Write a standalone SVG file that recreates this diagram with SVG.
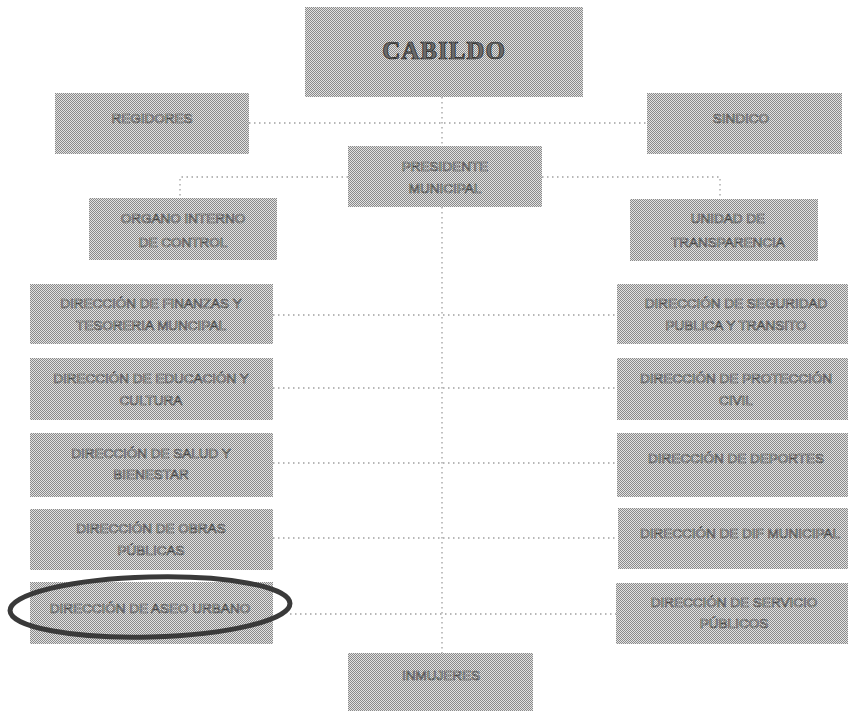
<svg xmlns="http://www.w3.org/2000/svg" width="850" height="712" viewBox="0 0 850 712">
<defs>
<pattern id="chk" x="0" y="0" width="2" height="2" patternUnits="userSpaceOnUse">
<rect x="0" y="0" width="2" height="2" fill="#e2e2e2"/>
<rect x="0" y="0" width="1" height="1" fill="#8a8a8a"/>
<rect x="1" y="1" width="1" height="1" fill="#8a8a8a"/>
</pattern>
<style>
.box{fill:url(#chk);}
.t{font-family:"Liberation Sans",Arial,sans-serif;font-size:13.5px;fill:#f6f6f6;stroke:#444;stroke-width:0.7;text-anchor:middle;}
.title{font-family:"Liberation Serif","Times New Roman",serif;font-size:25px;font-weight:bold;fill:#6a6a6a;stroke:#222;stroke-width:0.7;text-anchor:middle;letter-spacing:1px;}
.c{fill:none;stroke:#a0a0a0;stroke-width:1.3;stroke-dasharray:1.5 3.5;}
</style>
</defs>
<rect width="850" height="712" fill="#ffffff"/>
<g id="connectors">
<line class="c" x1="442" y1="97" x2="442" y2="146"/>
<line class="c" x1="249" y1="123" x2="647" y2="123"/>
<polyline class="c" points="348,177 180,177 180,198"/>
<polyline class="c" points="542,177 720,177 720,199"/>
<line class="c" x1="442" y1="207" x2="442" y2="653"/>
<line class="c" x1="273" y1="315" x2="617" y2="315"/>
<line class="c" x1="273" y1="388" x2="617" y2="388"/>
<line class="c" x1="273" y1="463" x2="617" y2="463"/>
<line class="c" x1="273" y1="538" x2="617" y2="538"/>
<line class="c" x1="290" y1="614" x2="616" y2="614"/>
</g>
<g id="cabildo"><rect class="box" x="305" y="7" width="278" height="90"/><text class="title" x="444" y="59">CABILDO</text></g>
<g id="regidores"><rect class="box" x="55" y="93" width="194" height="61"/><text class="t" x="152" y="123">REGIDORES</text></g>
<g id="sindico"><rect class="box" x="647" y="93" width="195" height="61"/><text class="t" x="741" y="123">SINDICO</text></g>
<g id="presidente"><rect class="box" x="348" y="146" width="194" height="61"/><text class="t" x="445" y="171">PRESIDENTE</text><text class="t" x="445" y="193">MUNICIPAL</text></g>
<g id="organo"><rect class="box" x="89" y="198" width="188" height="62"/><text class="t" x="183" y="223">ORGANO INTERNO</text><text class="t" x="183" y="247">DE CONTROL</text></g>
<g id="unidad"><rect class="box" x="630" y="199" width="188" height="62"/><text class="t" x="728" y="223">UNIDAD DE</text><text class="t" x="728" y="247">TRANSPARENCIA</text></g>
<g id="finanzas"><rect class="box" x="30" y="284" width="243" height="60"/><text class="t" x="151" y="308">DIRECCIÓN DE FINANZAS Y</text><text class="t" x="151" y="330">TESORERIA MUNCIPAL</text></g>
<g id="educacion"><rect class="box" x="30" y="358" width="243" height="62"/><text class="t" x="151" y="383">DIRECCIÓN DE EDUCACIÓN Y</text><text class="t" x="151" y="405">CULTURA</text></g>
<g id="salud"><rect class="box" x="30" y="433" width="243" height="64"/><text class="t" x="151" y="458">DIRECCIÓN DE SALUD Y</text><text class="t" x="151" y="479">BIENESTAR</text></g>
<g id="obras"><rect class="box" x="30" y="509" width="243" height="61"/><text class="t" x="151" y="533">DIRECCIÓN DE OBRAS</text><text class="t" x="151" y="555">PÚBLICAS</text></g>
<g id="aseo"><rect class="box" x="30" y="582" width="243" height="62"/><text class="t" x="150" y="613">DIRECCIÓN DE ASEO URBANO</text><ellipse cx="150" cy="607" rx="140" ry="30" fill="none" stroke="#3a3a3a" stroke-width="5" transform="rotate(-1.5 150 607)"/></g>
<g id="seguridad"><rect class="box" x="617" y="284" width="231" height="60"/><text class="t" x="736" y="308">DIRECCIÓN DE SEGURIDAD</text><text class="t" x="736" y="330">PUBLICA Y TRANSITO</text></g>
<g id="proteccion"><rect class="box" x="617" y="358" width="231" height="62"/><text class="t" x="736" y="383">DIRECCIÓN DE PROTECCIÓN</text><text class="t" x="736" y="405">CIVIL</text></g>
<g id="deportes"><rect class="box" x="617" y="433" width="231" height="64"/><text class="t" x="736" y="463">DIRECCIÓN DE DEPORTES</text></g>
<g id="dif"><rect class="box" x="618" y="508" width="230" height="61"/><text class="t" x="740" y="538">DIRECCIÓN DE DIF MUNICIPAL</text></g>
<g id="servicio"><rect class="box" x="616" y="583" width="232" height="61"/><text class="t" x="734" y="607">DIRECCIÓN DE SERVICIO</text><text class="t" x="734" y="628">PÚBLICOS</text></g>
<g id="inmujeres"><rect class="box" x="348" y="653" width="185" height="58"/><text class="t" x="441" y="680">INMUJERES</text></g>
</svg>
